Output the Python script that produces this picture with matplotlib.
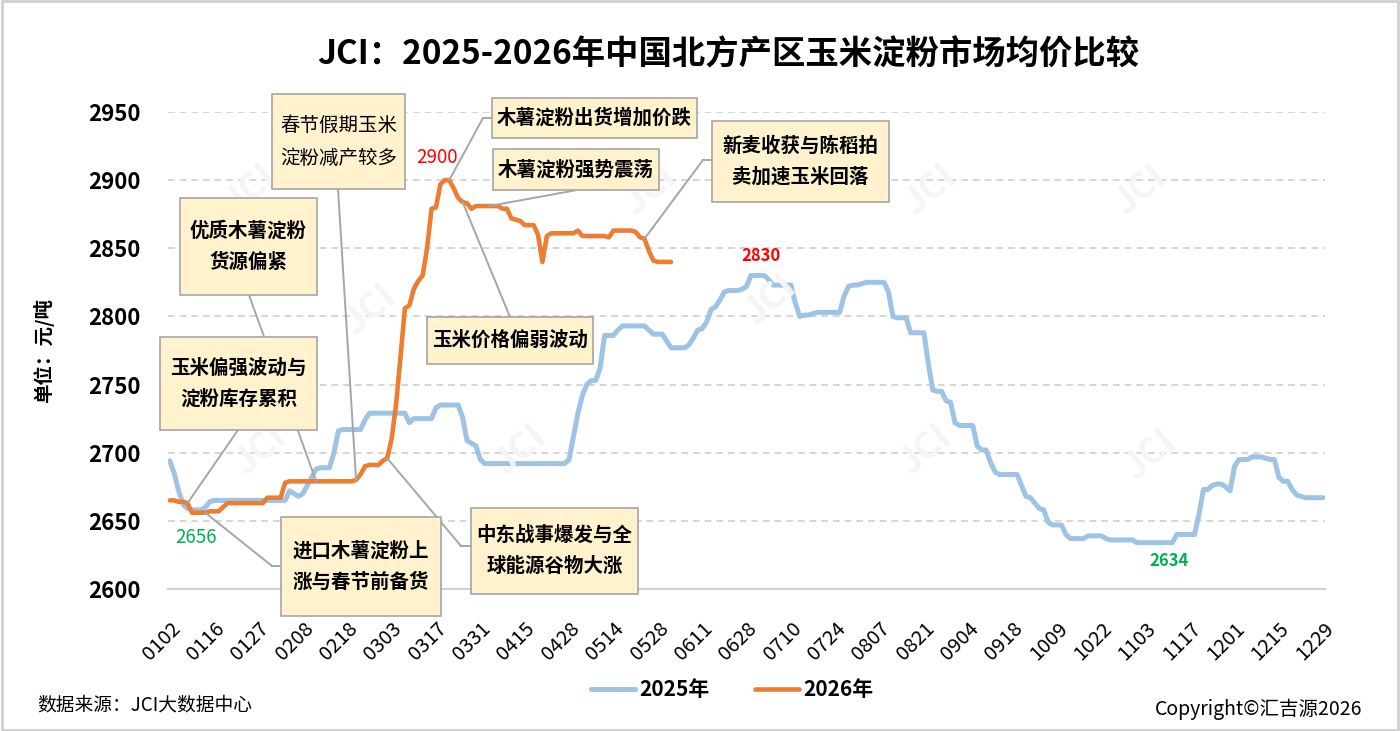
import matplotlib
matplotlib.use('Agg')
from matplotlib import pyplot as plt
from matplotlib.patches import Rectangle, ConnectionPatch
from matplotlib.lines import Line2D
import numpy as np

plt.rcParams['font.family'] = ['Noto Sans CJK SC', 'DejaVu Sans']
plt.rcParams['axes.unicode_minus'] = False

# 交易日标签 (每10个交易日一个)
tick_labels = ['0102', '0116', '0127', '0208', '0218', '0303', '0317', '0331', '0415',
               '0428', '0514', '0528', '0611', '0628', '0710', '0724', '0807', '0821',
               '0904', '0918', '1009', '1022', '1103', '1117', '1201', '1215', '1229']

# 2025年 均价 (元/吨)
price_2025 = [
    2694, 2685, 2672, 2662, 2659, 2658, 2658, 2658, 2660, 2664,
    2665, 2665, 2665, 2665, 2665, 2665, 2665, 2665, 2665, 2665,
    2665, 2665, 2665, 2665, 2665, 2665, 2665, 2672, 2670, 2668,
    2670, 2676, 2682, 2688, 2689, 2689, 2689, 2700, 2716, 2717,
    2717, 2717, 2717, 2717, 2724, 2729, 2729, 2729, 2729, 2729,
    2729, 2729, 2729, 2729, 2722, 2725, 2725, 2725, 2725, 2725,
    2733, 2735, 2735, 2735, 2735, 2735, 2726, 2709, 2707, 2705,
    2695, 2692, 2692, 2692, 2692, 2692, 2692, 2692, 2692, 2692,
    2692, 2692, 2692, 2692, 2692, 2692, 2692, 2692, 2692, 2692,
    2695, 2712, 2729, 2742, 2750, 2753, 2753, 2762, 2786, 2786,
    2786, 2790, 2793, 2793, 2793, 2793, 2793, 2793, 2790, 2787,
    2787, 2787, 2782, 2777, 2777, 2777, 2777, 2779, 2784, 2790,
    2791, 2796, 2805, 2807, 2812, 2818, 2819, 2819, 2819, 2820,
    2822, 2830, 2830, 2830, 2830, 2827, 2823, 2823, 2823, 2823,
    2823, 2810, 2800, 2801, 2801, 2802, 2803, 2803, 2803, 2803,
    2803, 2803, 2815, 2822, 2823, 2823, 2824, 2825, 2825, 2825,
    2825, 2825, 2818, 2800, 2799, 2799, 2799, 2788, 2788, 2788,
    2788, 2765, 2746, 2745, 2745, 2738, 2737, 2722, 2720, 2720,
    2720, 2720, 2705, 2702, 2702, 2693, 2686, 2684, 2684, 2684,
    2684, 2684, 2676, 2668, 2667, 2663, 2659, 2658, 2649, 2647,
    2647, 2647, 2640, 2637, 2637, 2637, 2637, 2639, 2639, 2639,
    2639, 2637, 2636, 2636, 2636, 2636, 2636, 2636, 2634, 2634,
    2634, 2634, 2634, 2634, 2634, 2634, 2634, 2640, 2640, 2640,
    2640, 2640, 2655, 2673, 2673, 2676, 2677, 2677, 2675, 2672,
    2690, 2695, 2695, 2695, 2697, 2697, 2697, 2696, 2695, 2695,
    2682, 2679, 2679, 2673, 2669, 2668, 2667, 2667, 2667, 2667,
    2667,
]

# 2026年 均价 (元/吨)
price_2026 = [
    2665, 2665, 2664, 2664, 2663, 2656, 2656, 2656, 2656, 2657,
    2657, 2657, 2660, 2663, 2663, 2663, 2663, 2663, 2663, 2663,
    2663, 2663, 2667, 2667, 2667, 2667, 2678, 2679, 2679, 2679,
    2679, 2679, 2679, 2679, 2679, 2679, 2679, 2679, 2679, 2679,
    2679, 2679, 2680, 2684, 2690, 2691, 2691, 2691, 2694, 2696,
    2710, 2735, 2770, 2806, 2808, 2820, 2826, 2830, 2850, 2879,
    2880, 2897, 2900, 2900, 2894, 2887, 2884, 2883, 2879, 2881,
    2881, 2881, 2881, 2881, 2881, 2879, 2879, 2872, 2871, 2870,
    2867, 2867, 2867, 2860, 2840, 2859, 2861, 2861, 2861, 2861,
    2861, 2861, 2863, 2859, 2859, 2859, 2859, 2859, 2859, 2858,
    2863, 2863, 2863, 2863, 2863, 2862, 2858, 2857, 2848, 2841,
    2840, 2840, 2840, 2840,
]

# 事件标注: 文本, 框(像素 x0,y0,x1,y1), 字重, 引线起点, 折点, 指向的2026年交易日序号
notes = [
    ("春节假期玉米\n淀粉减产较多", (272, 94, 405, 189), 'normal', (338, 189), None, 42),
    ("木薯淀粉出货增加价跌", (492, 98, 697, 138), 'bold', (492, 118), (483, 118), 63),
    ("木薯淀粉强势震荡", (493, 149, 659, 190), 'bold', (577, 190), None, 72),
    ("新麦收获与陈稻拍\n卖加速玉米回落", (712, 121, 889, 202), 'bold', (712, 160), (703, 160), 107),
    ("优质木薯淀粉\n货源偏紧", (180, 198, 317, 295), 'bold', (249, 295), None, 33),
    ("玉米偏强波动与\n淀粉库存累积", (160, 337, 317, 430), 'bold', (238, 430), None, 4),
    ("玉米价格偏弱波动", (427, 317, 593, 364), 'bold', (510, 317), None, 66),
    ("进口木薯淀粉上\n涨与春节前备货", (281, 517, 441, 616), 'bold', (281, 566), (272, 566), 8),
    ("中东战事爆发与全\n球能源谷物大涨", (471, 508, 638, 594), 'bold', (471, 546), (461, 546), 49),
]

W, H = 1400, 731


def fp(x, y):
    return (x / W, 1 - y / H)


fig = plt.figure(figsize=(14, 7.31), dpi=100)
ax = fig.add_axes([168 / W, 1 - 589 / H, (1325 - 168) / W, (589 - 112) / H])

x25 = np.arange(len(price_2025))
x26 = np.arange(len(price_2026))

# 水印
for wx, wy in [(250, 190), (370, 310), (520, 450), (650, 190), (770, 300), (925, 450),
               (1140, 190), (1150, 455), (930, 190), (260, 450)]:
    fig.text(wx / W, 1 - wy / H, 'JCI', fontsize=26, color='#f5f5f5', rotation=40,
             ha='center', va='center', fontweight='bold', zorder=0)

ax.plot(x25, price_2025, color='#9DC3E6', lw=3.6, solid_capstyle='round',
        solid_joinstyle='round', label='2025年', zorder=3)
ax.plot(x26, price_2026, color='#ED7D31', lw=3.3, solid_capstyle='round',
        solid_joinstyle='round', label='2026年', zorder=4)

ax.set_xlim(-0.4, len(price_2025) - 0.6)
ax.set_ylim(2600, 2950)
ax.set_yticks(np.arange(2600, 2951, 50))
ax.set_xticks(np.arange(0, len(price_2025), 10))
ax.set_xticklabels(tick_labels, rotation=45, ha='right', rotation_mode='anchor',
                   fontweight='medium')
ax.tick_params(axis='x', length=0, pad=21, labelsize=14.5)
ax.tick_params(axis='y', length=0, pad=20, labelsize=16)
for lab in ax.get_yticklabels():
    lab.set_fontweight('bold')
ax.grid(axis='y', color='#d0d0d0', ls=(0, (4, 3)), lw=1.2)
ax.set_axisbelow(True)
for s in ['top', 'right', 'left']:
    ax.spines[s].set_visible(False)
ax.spines['bottom'].set_color('#d0d0d0')
ax.spines['bottom'].set_linewidth(1.5)
ax.patch.set_alpha(0)

ax.set_ylabel('单位：元/吨', fontsize=14, fontweight='bold', labelpad=24)

# 极值标注
i_max26 = int(np.argmax(price_2026))
i_min26 = int(np.argmin(price_2026))
i_max25 = int(np.argmax(price_2025))
i_min25 = int(np.argmin(price_2025))
ax.annotate(str(price_2026[i_max26]), (i_max26, price_2026[i_max26]), xytext=(-6, 16),
            textcoords='offset points', ha='center', va='center', color='red', fontsize=13.5)
ax.annotate(str(price_2026[i_min26]), (i_min26, price_2026[i_min26]), xytext=(3, -18),
            textcoords='offset points', ha='center', va='center', color='#00B050', fontsize=13.5)
ax.annotate(str(price_2025[i_max25]), (i_max25, price_2025[i_max25]), xytext=(7, 14),
            textcoords='offset points', ha='center', va='center', color='red', fontsize=12,
            fontweight='bold')
ax.annotate(str(price_2025[i_min25]), (i_min25, price_2025[i_min25]), xytext=(23, -13),
            textcoords='offset points', ha='center', va='center', color='#00B050', fontsize=12,
            fontweight='bold')

# 事件标注框与引线
for text, (x0, y0, x1, y1), wt, start, elbow, idx in notes:
    target = (idx, price_2026[idx])
    if elbow is not None:
        fig.add_artist(Line2D([start[0] / W, elbow[0] / W], [1 - start[1] / H, 1 - elbow[1] / H],
                              transform=fig.transFigure, color='#a6a6a6', lw=1.4, zorder=4))
        a = fp(*elbow)
    else:
        a = fp(*start)
    con = ConnectionPatch(xyA=a, coordsA=fig.transFigure, xyB=target, coordsB=ax.transData,
                          color='#a6a6a6', lw=1.4, shrinkA=0, shrinkB=0, zorder=4)
    fig.add_artist(con)
    bx, by = fp(x0, y1)
    fig.add_artist(Rectangle((bx, by), (x1 - x0) / W, (y1 - y0) / H, transform=fig.transFigure,
                             facecolor='#FFF2CC', edgecolor='#a6a6a6', lw=1.2, zorder=5))
    cx, cy = fp((x0 + x1) / 2, (y0 + y1) / 2)
    fig.text(cx, cy, text, ha='center', va='center', fontsize=14, fontweight=wt,
             linespacing=1.75, zorder=6)

fig.suptitle('JCI：2025-2026年中国北方产区玉米淀粉市场均价比较', x=0.52, y=1 - 55 / H,
             va='center', fontsize=24, fontweight='bold')

fig.legend(loc='center', bbox_to_anchor=(732 / W, 1 - 690 / H), ncol=2, frameon=False,
           prop={'size': 15, 'weight': 'bold'}, handlelength=2.1, columnspacing=2.2,
           handletextpad=0.2)

fig.text(37 / W, 1 - 705 / H, '数据来源：JCI大数据中心', fontsize=13.5, ha='left', va='center')
fig.text(1362 / W, 1 - 709 / H, 'Copyright©汇吉源2026', fontsize=14, ha='right', va='center')

fig.add_artist(Rectangle((0.0015, 0.002), 0.997, 0.996, transform=fig.transFigure,
                         fill=False, edgecolor='#d0d0d0', lw=2, zorder=10))

fig.savefig('out.png', dpi=100, facecolor='white')
